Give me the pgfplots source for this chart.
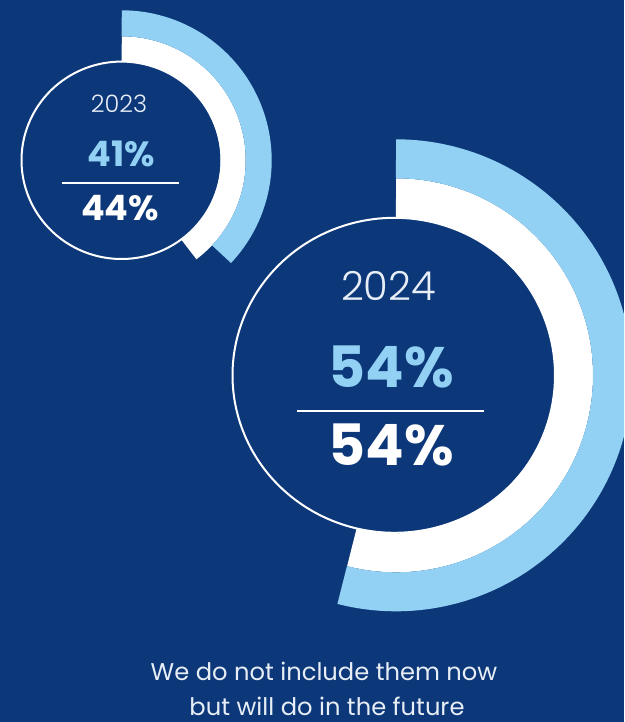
\documentclass[border=0pt]{standalone}
\usepackage{pgfplots}
\pgfplotsset{compat=1.18}
\usepackage{fontspec}
\setmainfont{Poppins}
\newfontfamily\plight{Poppins Light}
\definecolor{bg}{RGB}{12,56,122}
\definecolor{lblue}{RGB}{146,209,243}
\definecolor{soft}{RGB}{232,238,246}
% values (percent) and degrees per percent used by the design
\def\aW{44}\def\aB{41}\def\aS{3.25}
\def\bW{54}\def\bB{54}\def\bS{3.6}
\begin{document}
\begin{tikzpicture}
\begin{axis}[width=624pt,height=722pt,scale only axis,
  xmin=0,xmax=624,ymin=0,ymax=722,y dir=reverse,hide axis,clip=true]
\fill[bg] (rel axis cs:0,0) rectangle (rel axis cs:1,1);
% outline circles
\addplot[white,line width=2pt,domain=0:360,samples=240] ({121.5+100*sin(x)},{160.3-98.7*cos(x)});
\addplot[white,line width=2pt,domain=0:360,samples=300] ({394.5+162*sin(x)},{375.3-157.5*cos(x)});
% 2023 rings
\addplot[white,line width=25pt,domain=0:\aW*\aS,samples=200] ({121.7+111.5*sin(x)},{160.3-111.5*cos(x)});
\addplot[lblue,line width=26pt,domain=0:\aB*\aS,samples=200] ({121.7+137*sin(x)},{160.3-137*cos(x)});
% 2024 rings
\addplot[white,line width=39pt,domain=0:\bW*\bS,samples=300] ({396+177.5*sin(x)},{375.3-177.5*cos(x)});
\addplot[lblue,line width=39pt,domain=0:\bB*\bS,samples=300] ({396+216.5*sin(x)},{375.3-216.5*cos(x)});
% divider lines
\draw[white,line width=1.5pt] (axis cs:62,183) -- (axis cs:179,183);
\draw[white,line width=1.5pt] (axis cs:297,411) -- (axis cs:484,411);
% texts
\node[anchor=base,inner sep=0,text=soft,font=\plight\fontsize{24}{28}\selectfont] at (axis cs:119,112.7) {2023};
\node[anchor=base,inner sep=0,text=lblue,font=\bfseries\fontsize{35}{40}\selectfont] at (axis cs:121,166.7) {41\%};
\node[anchor=base,inner sep=0,text=white,font=\bfseries\fontsize{35}{40}\selectfont] at (axis cs:120,220) {44\%};
\node[anchor=base,inner sep=0,text=soft,font=\plight\fontsize{40}{46}\selectfont] at (axis cs:388.5,300) {2024};
\node[anchor=base,inner sep=0,text=lblue,font=\bfseries\fontsize{57}{66}\selectfont] at (axis cs:391,387) {54\%};
\node[anchor=base,inner sep=0,text=white,font=\bfseries\fontsize{57}{66}\selectfont] at (axis cs:391,465) {54\%};
\node[anchor=base,inner sep=0,text=soft,font=\fontsize{24.2}{28}\selectfont] at (axis cs:324,680) {We do not include them now};
\node[anchor=base,inner sep=0,text=soft,font=\fontsize{24.2}{28}\selectfont] at (axis cs:327,715) {but will do in the future};
\end{axis}
\end{tikzpicture}
\end{document}
